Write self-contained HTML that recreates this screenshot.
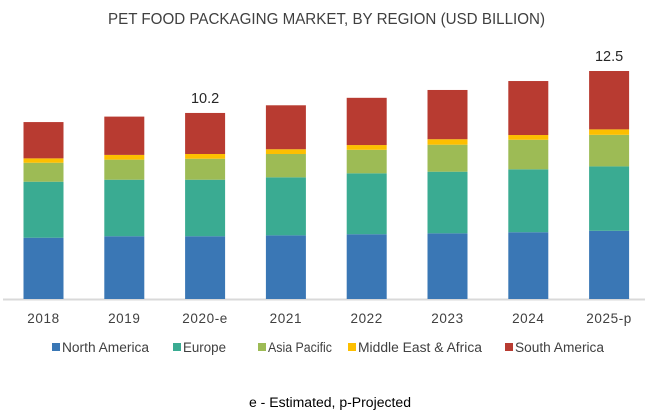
<!DOCTYPE html>
<html><head><meta charset="utf-8"><style>
body{margin:0;background:#fff;width:648px;height:412px;overflow:hidden;font-family:"Liberation Sans",sans-serif}
text{font-family:"Liberation Sans",sans-serif}
</style></head><body>
<svg id="chart" width="648" height="412">
<text x="108" y="24" textLength="437" lengthAdjust="spacingAndGlyphs" font-size="15.5" fill="#404040">PET FOOD PACKAGING MARKET, BY REGION (USD BILLION)</text>
<line x1="3" y1="299.5" x2="645" y2="299.5" stroke="#d9d9d9" stroke-width="2"/>
<g id="bars"></g>
<g id="legend"></g>
<text x="249" y="407" textLength="162" lengthAdjust="spacingAndGlyphs" font-size="13.5" fill="#000">e - Estimated, p-Projected</text>
</svg>
<script>
const categories=["2018","2019","2020-e","2021","2022","2023","2024","2025-p"];
const seriesNames=["North America","Europe","Asia Pacific","Middle East & Africa","South America"];
const northAmerica=[3.36,3.44,3.44,3.49,3.55,3.60,3.66,3.74];
const europe=[3.07,3.10,3.10,3.18,3.34,3.38,3.45,3.53];
const asiaPacific=[1.04,1.10,1.15,1.28,1.29,1.48,1.62,1.73];
const middleEastAfrica=[0.24,0.26,0.26,0.26,0.26,0.30,0.26,0.30];
const southAmerica=[1.99,2.10,2.25,2.41,2.59,2.70,2.96,3.20];
const totalLabels=["","","10.2","","","","","12.5"];
const colors=["#3a77b5","#3aab92","#9dbb55","#fdbf00","#b83b31"];
const series=[northAmerica,europe,asiaPacific,middleEastAfrica,southAmerica];
const NS="http://www.w3.org/2000/svg";
const baseY=299, pxPerUnit=18.24, x0=43.5, step=80.8, bw=40;
const xScale=i=>x0+i*step;
const yScale=v=>baseY-v*pxPerUnit;
const g=document.getElementById('bars');
const keys=["north-america","europe","asia-pacific","middle-east-africa","south-america"];
categories.forEach((c,i)=>{
  let cum=0;
  series.forEach((s,k)=>{
    const r=document.createElementNS(NS,'rect');
    r.setAttribute('x',xScale(i)-bw/2);
    r.setAttribute('y',yScale(cum+s[i]));
    r.setAttribute('width',bw);
    r.setAttribute('height',s[i]*pxPerUnit);
    r.setAttribute('fill',colors[k]);
    
    
    g.appendChild(r);
    cum+=s[i];
  });
  if(totalLabels[i]){
    const t=document.createElementNS(NS,'text');
    t.setAttribute('x',xScale(i));t.setAttribute('y',yScale(cum)-10);
    t.setAttribute('text-anchor','middle');t.setAttribute('font-size','14.5');t.setAttribute('fill','#262626');
    t.textContent=totalLabels[i];
    
    
    g.appendChild(t);
  }
  const t=document.createElementNS(NS,'text');
  t.setAttribute('x',xScale(i));t.setAttribute('y',323);
  t.setAttribute('text-anchor','middle');t.setAttribute('font-size','13.5');t.setAttribute('fill','#404040');
  t.setAttribute('letter-spacing','0.6');
  t.textContent=c;
  
  
  g.appendChild(t);
});
const lg=document.getElementById('legend');
const lx=[52,173,258,348,505];
const lw=[87,43,64,124,89];
seriesNames.forEach((n,k)=>{
  const r=document.createElementNS(NS,'rect');
  r.setAttribute('x',lx[k]);r.setAttribute('y',343);r.setAttribute('width',8);r.setAttribute('height',8);
  r.setAttribute('fill',colors[k]);
  
  
  lg.appendChild(r);
  const t=document.createElementNS(NS,'text');
  t.setAttribute('x',lx[k]+10);t.setAttribute('y',352);t.setAttribute('font-size','13.5');t.setAttribute('fill','#404040');
  t.setAttribute('textLength',lw[k]);t.setAttribute('lengthAdjust','spacingAndGlyphs');
  t.textContent=n;
  
  
  lg.appendChild(t);
});
</script>
</body></html>
